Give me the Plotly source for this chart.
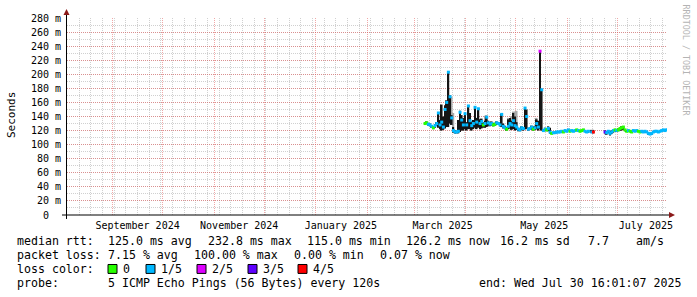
import plotly.graph_objects as go
import pandas as pd

# ------------------------------------------------------------------ data
series_start = "2025-03-07 12:00"          # first daily sample
median_rtt = [
    130, 131, 129, 128, 126, 124, 127, 130,
    145, 128, 132, 125, 150, 160, 203, 168,
    138, 120, 118, 118, 119, 146, 135, 128,
    144, 128, 155, 134, 127, 130, 153, 132,
    151, 130, 133, 128, 130, 139, 131, 129,
    130, 128, 129, 131, 130, 128, 143, 126,
    124, 122, 126, 130, 128, 134, 127, 125,
    122, 121, 124, 123, 152, 140, 122, 123,
    125, 122, 124, 130, 125, 232.8, 178, 120,
    122, 121, 123, 118, 116, 117, 117, 118,
    118, 118, 119, 118, 120, 119, 121, 119,
    120, 119, 120, 121, 120, 119, 120, 121,
    119, 118, 119, None, 118, 118, None, None,
    None, None, None, None, 118, 117, 119, 116,
    118, 120, 121, 120, 121, 123, 124, 125,
    121, 119, 120, 119, 118, 120, 119, 120,
    119, 118, 119, 118, 119, 118, 116, 115,
    116, 118, 119, 119, 118, 119, 120, 121,
    120, 121,
]
loss_level = [
    0, 0, 1, 1, 1, 0, 1, 1,
    1, 1, 1, 1, 1, 1, 1, 1,
    1, 1, 1, 1, 1, 1, 1, 1,
    1, 1, 1, 1, 1, 1, 1, 1,
    1, 1, 1, 0, 1, 1, 1, 1,
    1, 0, 0, 1, 1, 1, 1, 1,
    1, 0, 1, 1, 1, 1, 1, 1,
    1, 1, 1, 1, 1, 1, 1, 1,
    1, 0, 1, 1, 1, 2, 1, 1,
    1, 0, 1, 1, 0, 1, 1, 1,
    1, 1, 1, 0, 1, 1, 1, 0,
    1, 1, 1, 0, 1, 0, 0, 0,
    1, 1, 1, 1, 1, 4, 1, 1,
    1, 1, 1, 1, 3, 1, 1, 1,
    1, 1, 0, 1, 0, 0, 0, 0,
    0, 0, 1, 0, 0, 1, 1, 1,
    0, 0, 1, 1, 1, 1, 1, 1,
    1, 1, 1, 1, 1, 1, 1, 1,
    1, 1,
]
smoke_low = [
    128, 129, 127, 126, 124, 122, 124, 127,
    124, 122, 120, 121, 123, 125, 125, 130,
    128, 117, 116, 116, 116, 118, 120, 120,
    122, 120, 122, 122, 120, 122, 124, 122,
    124, 122, 123, 124, 124, 125, 126, 126,
    127, 126, 127, 128, 128, 126, 125, 123,
    122, 120, 122, 123, 121, 122, 120, 121,
    119, 119, 121, 120, 122, 122, 120, 121,
    121, 120, 121, 122, 120, 122, 120, 118,
    120, 119, 119, 116, 115, 116, 116, 116,
    117, 117, 117, 117, 118, 118, 119, 118,
    118, 118, 119, 119, 118, 118, 118, 119,
    118, 117, 117, None, 117, 116, None, None,
    None, None, None, None, 116, 114, 116, 113,
    115, 117, 119, 118, 119, 120, 120, 121,
    119, 118, 118, 118, 117, 118, 118, 118,
    118, 117, 117, 117, 117, 117, 114, 114,
    115, 117, 118, 118, 117, 118, 119, 119,
    119, 120,
]
smoke_high = [
    132, 133, 131, 130, 128, 126, 129, 132,
    146, 135, 157, 140, 156, 163, 204, 170,
    142, 125, 120, 120, 135, 148, 142, 138,
    145, 132, 156, 145, 133, 135, 154, 138,
    152, 136, 137, 132, 134, 140, 134, 132,
    133, 131, 131, 133, 132, 131, 144, 130,
    127, 125, 136, 138, 134, 145, 140, 132,
    124, 123, 126, 125, 153, 150, 124, 125,
    127, 126, 127, 136, 134, 234, 179, 122,
    124, 123, 126, 124, 118, 118, 118, 119,
    119, 119, 120, 119, 121, 120, 122, 120,
    121, 120, 121, 122, 121, 120, 121, 122,
    120, 119, 120, None, 121, 121, None, None,
    None, None, None, None, 120, 119, 120, 118,
    120, 121, 122, 122, 123, 124, 126, 126,
    122, 120, 121, 120, 119, 121, 120, 121,
    120, 119, 120, 119, 120, 119, 117, 116,
    117, 119, 120, 120, 119, 120, 121, 122,
    121, 122,
]
# lighter (sparser) smoke
halo_dates = ["2025-03-22 12:00", "2025-03-23 12:00", "2025-03-24 12:00",
              "2025-04-12 12:00", "2025-04-13 12:00",
              "2025-04-26 12:00", "2025-04-27 12:00", "2025-04-28 12:00",
              "2025-04-29 12:00", "2025-04-30 12:00", "2025-05-01 12:00",
              "2025-05-13 12:00"]
halo_low = [135, 130, 125, 124, 125, 122, 123, 122, 122, 121, 121, 121]
halo_high = [170, 168, 145, 141, 142, 138, 138, 140, 147, 147, 148, 138]

loss_labels = ["0", "1/5", "2/5", "3/5", "4/5"]
loss_colors = ["#26ff00", "#00b8ff", "#dd00ff", "#5e00ff", "#ff0000"]

y_tick_vals = list(range(0, 281, 20))
y_tick_text = ["0\u00a0\u00a0"] + [f"{v} m" for v in range(20, 281, 20)]
x_label_dates = ["2024-09-16", "2024-11-16", "2025-01-16",
                 "2025-03-18", "2025-05-18", "2025-07-18"]
x_label_text = ["September 2024", "November 2024", "January 2025",
                "March 2025", "May 2025", "July 2025"]
range_start = "2024-08-04 16:01:07"
range_end = "2025-07-30 16:01:07"

stats_rtt = ["median rtt:", "125.0 ms avg", "232.8 ms max", "115.0 ms min",
             "126.2 ms now", "16.2 ms sd", "7.7", "am/s"]
stats_loss = ["packet loss:", "7.15 % avg", "100.00 % max", "0.00 % min", "0.07 % now"]
probe_text = ["probe:", "5 ICMP Echo Pings (56 Bytes) every 120s",
              "end: Wed Jul 30 16:01:07 2025"]

# ------------------------------------------------------------------ layout helpers
W, H = 697, 297
L, R, T, B = 67, 667, 16, 215
PW, PH = R - L, B - T
MONO = "DejaVu Sans Mono"


def px(x):
    return (x - L) / PW


def py(y):
    return (B - y) / PH


dates = pd.date_range(series_start, periods=len(median_rtt), freq="D")
day_ms = 86400000

fig = go.Figure()

# light smoke
fig.add_trace(go.Bar(
    x=pd.to_datetime(halo_dates), base=halo_low,
    y=[h - l for h, l in zip(halo_high, halo_low)],
    width=day_ms, marker=dict(color="#a9a9a9", line=dict(width=0)),
    showlegend=False, hoverinfo="skip"))
# dark smoke
fig.add_trace(go.Bar(
    x=dates, base=smoke_low,
    y=[None if (h is None or l is None) else h - l for h, l in zip(smoke_high, smoke_low)],
    width=day_ms, marker=dict(color="#151515", line=dict(width=0)),
    showlegend=False, hoverinfo="skip"))
# median coloured by loss
fig.add_trace(go.Scatter(
    x=dates, y=median_rtt, mode="markers",
    marker=dict(symbol="square", size=3, line=dict(width=0),
                color=[loss_colors[k] for k in loss_level]),
    showlegend=False, hoverinfo="skip"))
# dummy trace for the grid axis
fig.add_trace(go.Scatter(x=[range_start, range_end], y=[None, None], xaxis="x2",
                         showlegend=False, hoverinfo="skip"))

month_starts = pd.date_range("2024-09-01", "2025-07-01", freq="MS")
week_starts = pd.date_range("2024-08-05", "2025-07-28", freq="7D")

minor_col = "rgba(150,150,150,0.45)"
major_col = "rgba(225,80,80,0.5)"

fig.update_layout(
    width=W, height=H,
    margin=dict(l=L, r=W - R, t=T, b=H - B, pad=0),
    paper_bgcolor="white", plot_bgcolor="white",
    barmode="overlay",
    font=dict(family=MONO, size=10, color="black"),
    xaxis=dict(
        type="date", range=[range_start, range_end],
        tickmode="array", tickvals=x_label_dates, ticktext=x_label_text,
        showgrid=False, zeroline=False, showline=False, ticks="",
        ticklabelstandoff=3,
        tickfont=dict(family=MONO, size=10, color="black"),
        minor=dict(showgrid=True, tickmode="array", tickvals=week_starts,
                   gridcolor=minor_col, griddash="1px,1px", gridwidth=1),
    ),
    xaxis2=dict(
        type="date", range=[range_start, range_end], overlaying="x", anchor="y",
        tickmode="array", tickvals=month_starts, ticktext=[""] * len(month_starts),
        showgrid=True, gridcolor=major_col, griddash="1px,1px",
        gridwidth=1, zeroline=False, showline=False, ticks="",
    ),
    yaxis=dict(
        range=[0, 280], tickmode="array", tickvals=y_tick_vals, ticktext=y_tick_text,
        showgrid=True, gridcolor=major_col, griddash="1px,1px",
        zeroline=False, showline=False, ticks="", ticklabelstandoff=5,
        tickfont=dict(family=MONO, size=10, color="black"),
        minor=dict(showgrid=True, dtick=10, gridcolor=minor_col, griddash="1px,1px"),
    ),
)

shapes = []
ax_col = "#000000"
arrow_col = "#8b1a1a"
# x axis line + arrow
shapes.append(dict(type="line", xref="paper", yref="paper", x0=px(62), x1=px(670),
                   y0=0, y1=0, line=dict(color=ax_col, width=1)))
shapes.append(dict(type="path", xref="paper", yref="paper",
                   path=f"M {px(669)},{py(212)} L {px(675)},{py(215)} L {px(669)},{py(218)} Z",
                   fillcolor=arrow_col, line=dict(color=arrow_col, width=0)))
# y axis line + arrow
shapes.append(dict(type="line", xref="paper", yref="paper", x0=px(66.5), x1=px(66.5),
                   y0=py(219), y1=py(11), line=dict(color=ax_col, width=1)))
shapes.append(dict(type="path", xref="paper", yref="paper",
                   path=f"M {px(63.5)},{py(13)} L {px(66.5)},{py(7)} L {px(69.5)},{py(13)} Z",
                   fillcolor=arrow_col, line=dict(color=arrow_col, width=0)))

annotations = []


def text(t, x, y, size=11.6, color="black", angle=0, xanchor="left"):
    annotations.append(dict(text=t, x=px(x), y=py(y), xref="paper", yref="paper",
                            showarrow=False, xanchor=xanchor, yanchor="middle",
                            textangle=angle, borderpad=0,
                            font=dict(family=MONO, size=size, color=color)))


text("Seconds", 11, 114, size=11, angle=-90, xanchor="center")
text("RRDTOOL / TOBI OETIKER", 686, 59, size=8.4, color="#b4b4b4", angle=90, xanchor="center")

rtt_x = [16, 107, 207, 306, 405, 499, 587, 635]
for t, x in zip(stats_rtt, rtt_x):
    text(t, x, 241.5)
loss_x = [16, 107, 193, 293, 379]
for t, x in zip(stats_loss, loss_x):
    text(t, x, 255.5)
text("loss color:", 16, 269.5)
sq_x = [108, 146, 197, 248, 298]
for lab, col, x in zip(loss_labels, loss_colors, sq_x):
    shapes.append(dict(type="rect", xref="paper", yref="paper",
                       x0=px(x), x1=px(x + 9), y0=py(274), y1=py(265),
                       fillcolor=col, line=dict(color="black", width=1)))
    text(lab, x + 14, 269.5)
text(probe_text[0], 16, 283.5)
text(probe_text[1], 107, 283.5)
text(probe_text[2], 478, 283.5)

fig.update_layout(shapes=shapes, annotations=annotations)
fig.write_html("out.html")
